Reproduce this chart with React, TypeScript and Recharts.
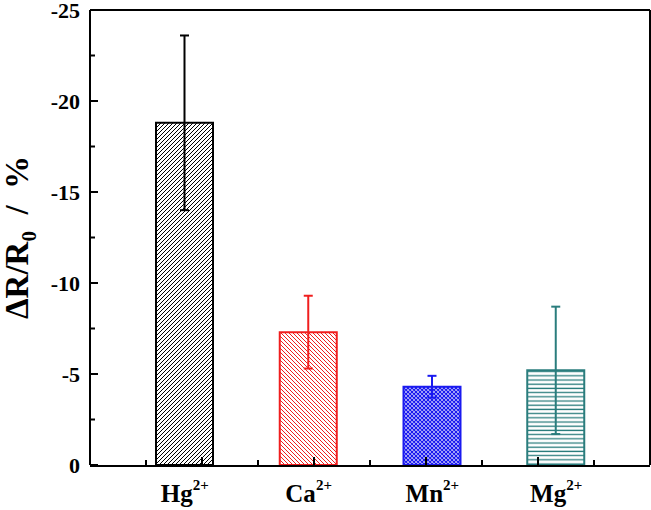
import React from 'react';
import { BarChart, Bar, XAxis, YAxis, Cell, ErrorBar, ReferenceLine, Label } from 'recharts';

const ions = ['Hg', 'Ca', 'Mn', 'Mg'];
const charges = ['2+', '2+', '2+', '2+'];
const responses = [-18.8, -7.3, -4.3, -5.2];
const errors = [4.8, 2.0, 0.6, 3.5];
const yTicks = [0, -2.5, -5, -7.5, -10, -12.5, -15, -17.5, -20, -22.5, -25];
const xTickMarks = [0.5, 1, 1.5, 2, 2.5, 3, 3.5, 4, 4.5];

const colors = ['#000000', '#f01e1e', '#1a1af0', '#2a7d7d'];
const patternIds = ['pHg', 'pCa', 'pMn', 'pMg'];

const FONT = "'Liberation Serif', 'Times New Roman', serif";

const data = ions.map((ion, i) => {
  const row: any = { ion, value: responses[i] };
  row['e' + i] = errors[i];
  return row;
});

const YTick = (props: any) => {
  const { x, y, payload } = props;
  const v = Number(payload.value);
  const major = Math.abs(v % 5) < 1e-9;
  return (
    <g>
      <line x1={x} x2={x + (major ? 8 : 5)} y1={y} y2={y} stroke="#000" strokeWidth={2} />
      {major && (
        <text x={x - 10} y={y} dy="0.35em" textAnchor="end" fontFamily={FONT} fontWeight="bold" fontSize={22} fill="#000">
          {v === 0 ? '0' : String(v)}
        </text>
      )}
    </g>
  );
};

const XTickMark = (props: any) => {
  const { x, y, payload } = props;
  const major = Number.isInteger(Number(payload.value));
  return <line x1={x} x2={x} y1={y} y2={y - (major ? 8 : 5)} stroke="#000" strokeWidth={2} />;
};

const XLabel = (props: any) => {
  const { x, y, payload, index } = props;
  return (
    <text x={x} y={y + 36} textAnchor="middle" fontFamily={FONT} fontWeight="bold" fontSize={25} fill="#000">
      <tspan>{payload.value}</tspan>
      <tspan dy={-12} fontSize={15}>{charges[index]}</tspan>
    </text>
  );
};

const YTitle = (props: any) => {
  const vb = props.viewBox || {};
  const cy = (vb.y ?? 10) + (vb.height ?? 455) / 2;
  const cx = 28;
  return (
    <text
      x={cx}
      y={cy}
      transform={`rotate(-90, ${cx}, ${cy})`}
      textAnchor="middle"
      fontFamily={FONT}
      fontWeight="bold"
      fontSize={33}
      fill="#000"
      style={{ whiteSpace: 'pre' }}
    >
      <tspan>ΔR/R</tspan>
      <tspan dy={8} fontSize={21}>0</tspan>
      <tspan dy={-8}>{'  /  %'}</tspan>
    </text>
  );
};

export default function App() {
  return (
    <div style={{ position: 'absolute', left: 0, top: 0 }}>
      <BarChart width={651} height={510} data={data} margin={{ top: 10, right: 1, bottom: 0, left: 0 }}>
        <defs>
          <pattern id="pHg" patternUnits="userSpaceOnUse" width="4" height="4">
            <rect width="4" height="4" fill="#fff" />
            <path d="M-1,1 l2,-2 M0,4 l4,-4 M3,5 l2,-2" stroke="#000" strokeWidth="1" />
          </pattern>
          <pattern id="pCa" patternUnits="userSpaceOnUse" width="4" height="4">
            <rect width="4" height="4" fill="#fff" />
            <path d="M-1,3 l2,2 M0,0 l4,4 M3,-1 l2,2" stroke="#f01e1e" strokeWidth="1" />
          </pattern>
          <pattern id="pMn" patternUnits="userSpaceOnUse" width="4" height="4">
            <rect width="4" height="4" fill="#fff" />
            <path d="M-1,1 l2,-2 M0,4 l4,-4 M3,5 l2,-2 M-1,3 l2,2 M0,0 l4,4 M3,-1 l2,2" stroke="#1a1af0" strokeWidth="1.3" />
          </pattern>
          <pattern id="pMg" patternUnits="userSpaceOnUse" width="4" height="4.2">
            <rect width="4" height="4.2" fill="#fff" />
            <path d="M0,2 h4" stroke="#2a7d7d" strokeWidth="1.3" />
          </pattern>
        </defs>
        <Bar dataKey="value" xAxisId={1} barSize={57} isAnimationActive={false}>
          {data.map((_, i) => (
            <Cell key={i} fill={`url(#${patternIds[i]})`} stroke={colors[i]} strokeWidth={2} />
          ))}
          {data.map((_, i) => (
            <ErrorBar
              key={'e' + i}
              dataKey={'e' + i}
              direction="y"
              width={4.5}
              stroke={colors[i]}
              strokeWidth={2}
              isAnimationActive={false}
            />
          ))}
        </Bar>
        <XAxis
          xAxisId={0}
          type="number"
          dataKey="value"
          domain={[0, 5]}
          ticks={xTickMarks}
          interval={0}
          height={1}
          axisLine={false}
          tickLine={false}
          tickSize={0}
          tickMargin={0}
          tick={XTickMark}
          allowDataOverflow
        />
        <XAxis
          xAxisId={1}
          dataKey="ion"
          type="category"
          height={44}
          padding={{ left: 33, right: 32 }}
          axisLine={{ stroke: '#000', strokeWidth: 2 }}
          tickLine={false}
          tickSize={0}
          tickMargin={0}
          interval={0}
          tick={XLabel}
        />
        <YAxis
          type="number"
          domain={[-25, 0]}
          reversed
          ticks={yTicks}
          interval={0}
          width={90}
          axisLine={{ stroke: '#000', strokeWidth: 2 }}
          tickLine={false}
          tickSize={0}
          tickMargin={0}
          tick={YTick}
          allowDataOverflow
        >
          <Label content={YTitle} />
        </YAxis>
        <ReferenceLine y={-25} xAxisId={0} stroke="#000" strokeWidth={2} />
        <ReferenceLine x={5} xAxisId={0} stroke="#000" strokeWidth={2} />
      </BarChart>
    </div>
  );
}
